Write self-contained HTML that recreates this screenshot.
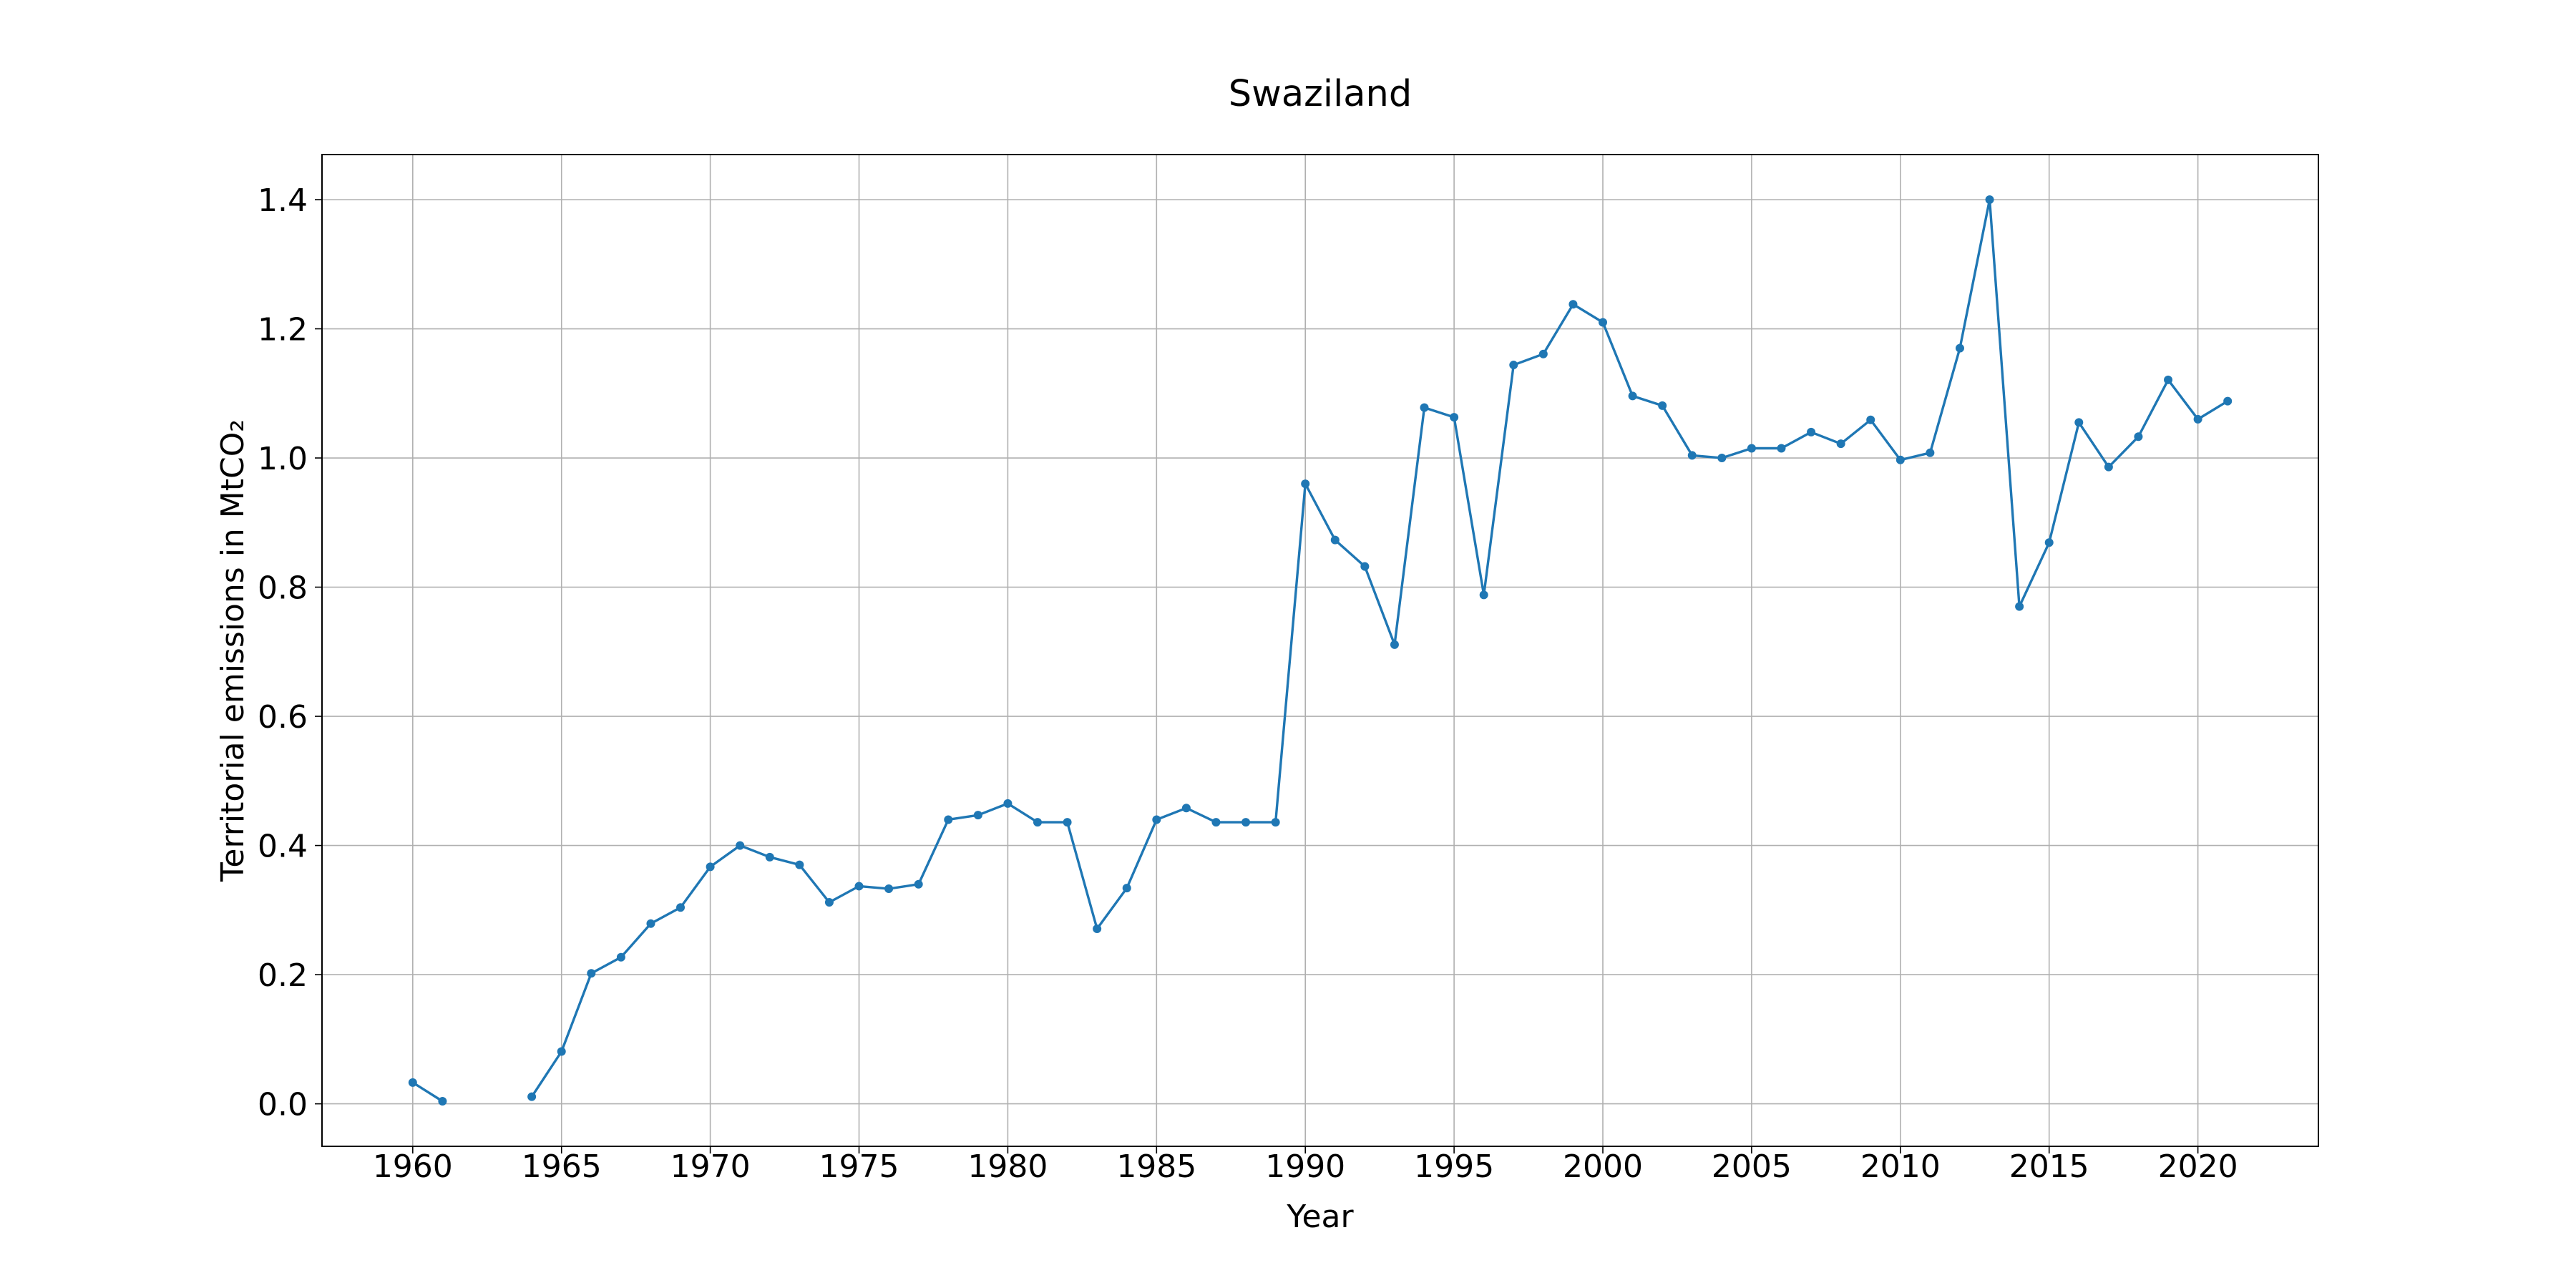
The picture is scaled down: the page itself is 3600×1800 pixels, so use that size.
<!DOCTYPE html>
<html><head><meta charset="utf-8"><style>
html,body{margin:0;padding:0;background:#fff;width:3600px;height:1800px;overflow:hidden}
svg text{font-family:"DejaVu Sans","Liberation Sans",sans-serif;fill:#000}
</style></head><body>
<svg id="chart" width="3600" height="1800" viewBox="0 0 3600 1800" xmlns="http://www.w3.org/2000/svg">
<rect width="3600" height="1800" fill="#fff"/>
<text x="1845" y="148" font-size="51" text-anchor="middle">Swaziland</text>
<g id="grid"></g>
<g id="ticks"></g>
<g id="series"></g>
<rect x="450" y="216" width="2790" height="1386" fill="none" stroke="#000" stroke-width="2"/>
<text x="1845" y="1715" font-size="44" text-anchor="middle">Year</text>
<text transform="translate(340,909) rotate(-90)" font-size="44" text-anchor="middle">Territorial emissions in MtCO₂</text>
</svg>
<script>
const years = [1960,1961,1962,1963,1964,1965,1966,1967,1968,1969,1970,1971,1972,1973,1974,1975,1976,1977,1978,1979,1980,1981,1982,1983,1984,1985,1986,1987,1988,1989,1990,1991,1992,1993,1994,1995,1996,1997,1998,1999,2000,2001,2002,2003,2004,2005,2006,2007,2008,2009,2010,2011,2012,2013,2014,2015,2016,2017,2018,2019,2020,2021];
const emissions = [0.033,0.004,null,null,0.011,0.081,0.202,0.227,0.279,0.304,0.367,0.400,0.382,0.370,0.312,0.337,0.333,0.340,0.440,0.447,0.465,0.436,0.436,0.271,0.334,0.440,0.458,0.436,0.436,0.436,0.960,0.873,0.832,0.711,1.078,1.063,0.788,1.144,1.161,1.238,1.210,1.096,1.081,1.004,1.000,1.015,1.015,1.040,1.022,1.059,0.997,1.008,1.170,1.400,0.770,0.869,1.055,0.986,1.033,1.121,1.060,1.088];
const xTicks = [1960,1965,1970,1975,1980,1985,1990,1995,2000,2005,2010,2015,2020];
const yTicks = [0.0,0.2,0.4,0.6,0.8,1.0,1.2,1.4];

const L=450,R=3240,T=216,B=1602;
const NS='http://www.w3.org/2000/svg';
const xmin=Math.min(...years),xmax=Math.max(...years);
const vals=emissions.filter(v=>v!==null);
const vmin=Math.min(...vals),vmax=Math.max(...vals);
const xm=(xmax-xmin)*0.05, ym=(vmax-vmin)*0.05;
const x0=xmin-xm,x1=xmax+xm,y0=vmin-ym,y1=vmax+ym;
const sx=v=>L+(v-x0)/(x1-x0)*(R-L);
const sy=v=>B-(v-y0)/(y1-y0)*(B-T);
function mk(tag,attrs,parent){const e=document.createElementNS(NS,tag);for(const k in attrs)e.setAttribute(k,attrs[k]);parent.appendChild(e);return e;}
const grid=document.getElementById('grid'),ticks=document.getElementById('ticks'),series=document.getElementById('series');
xTicks.forEach(t=>{
  const x=sx(t);
  const g=mk('line',{x1:x,x2:x,y1:T,y2:B,stroke:'#b0b0b0','stroke-width':1.6},grid);
  
  
  const tk=mk('line',{x1:x,x2:x,y1:B,y2:B+10,stroke:'#000','stroke-width':1.6},ticks);
  
  
  const tx=mk('text',{x:x,y:B+43,'font-size':44,'text-anchor':'middle'},ticks);
  tx.textContent=t;
  
  
});
yTicks.forEach(t=>{
  const y=sy(t);
  const g=mk('line',{x1:L,x2:R,y1:y,y2:y,stroke:'#b0b0b0','stroke-width':1.6},grid);
  
  
  const tk=mk('line',{x1:L-10,x2:L,y1:y,y2:y,stroke:'#000','stroke-width':1.6},ticks);
  
  
  const tx=mk('text',{x:L-20,y:y+16,'font-size':44,'text-anchor':'end'},ticks);
  tx.textContent=t.toFixed(1);
  
  
});
let segs=[],cur=[];
years.forEach((yr,i)=>{const v=emissions[i];if(v===null){if(cur.length)segs.push(cur);cur=[];}else cur.push([sx(yr),sy(v)]);});
if(cur.length)segs.push(cur);
segs.forEach(s=>{
  const p=mk('polyline',{points:s.map(q=>q.join(',')).join(' '),fill:'none',stroke:'#1f77b4','stroke-width':3.4,'stroke-linejoin':'round'},series);
  
  
});
years.forEach((yr,i)=>{
  const v=emissions[i];if(v===null)return;
  const c=mk('circle',{cx:sx(yr),cy:sy(v),r:6,fill:'#1f77b4'},series);
  
  
});
</script>
</body></html>
